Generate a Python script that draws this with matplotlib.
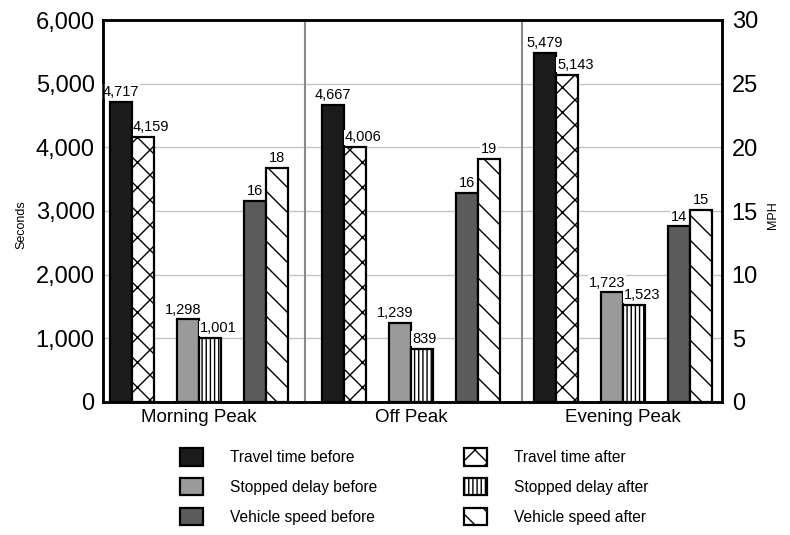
import matplotlib
matplotlib.use("Agg")
import matplotlib.pyplot as plt
from matplotlib.ticker import FuncFormatter
import numpy as np

# render at 75 dpi so hatch spacing matches the reference; k rescales point sizes
DPI = 75
k = 100 / DPI

plt.rcParams['font.family'] = ['Liberation Sans', 'DejaVu Sans']
plt.rcParams['hatch.linewidth'] = 1.0 * k

categories = ["Morning Peak", "Off Peak", "Evening Peak"]
travel_before = [4717, 4667, 5479]
travel_after = [4159, 4006, 5143]
delay_before = [1298, 1239, 1723]
delay_after = [1001, 839, 1523]
speed_before = [15.8, 16.4, 13.8]
speed_after = [18.4, 19.1, 15.1]
left_ticks = [0, 1000, 2000, 3000, 4000, 5000, 6000]
right_ticks = [0, 5, 10, 15, 20, 25, 30]

W, H = 790, 535
fig = plt.figure(figsize=(W / DPI, H / DPI), dpi=DPI)
ax = fig.add_axes([103 / W, 133 / H, 619 / W, 382 / H])
ax2 = ax.twinx()

x = np.arange(len(categories))
bw = 0.104
offs = [-0.368, -0.264, -0.052, 0.052, 0.264, 0.368]
elw = 1.6 * k

c_tb = '#1c1c1c'
c_db = '#9a9a9a'
c_sb = '#5c5c5c'

b1 = ax.bar(x + offs[0], travel_before, bw, color=c_tb, edgecolor='black', lw=elw, zorder=3,
            label='Travel time before')
b2 = ax.bar(x + offs[1], travel_after, bw, color='white', edgecolor='black', lw=elw, hatch='x',
            zorder=3, label='Travel time after')
b3 = ax.bar(x + offs[2], delay_before, bw, color=c_db, edgecolor='black', lw=elw, zorder=3,
            label='Stopped delay before')
b4 = ax.bar(x + offs[3], delay_after, bw, color='white', edgecolor='black', lw=elw, hatch='|||',
            zorder=3, label='Stopped delay after')
b5 = ax2.bar(x + offs[4], speed_before, bw, color=c_sb, edgecolor='black', lw=elw, zorder=3,
             label='Vehicle speed before')
b6 = ax2.bar(x + offs[5], speed_after, bw, color='white', edgecolor='black', lw=elw, hatch='\\',
             zorder=3, label='Vehicle speed after')

bb = dict(facecolor='white', edgecolor='none', pad=0.5)
fs_lab = 10.5 * k


def label_bars(a, bars, fmt, align):
    for rect, v in zip(bars.patches, bars.datavalues):
        if align == 'center':
            xx, ha, dx = rect.get_x() + rect.get_width() / 2, 'center', 0
        elif align == 'left':
            xx, ha, dx = rect.get_x(), 'left', 1
        else:
            xx, ha, dx = rect.get_x() + rect.get_width(), 'right', 2
        a.annotate(fmt(v), (xx, rect.get_height()), xytext=(dx * k * 0.75, 2 * k),
                   textcoords='offset points', ha=ha, va='bottom', fontsize=fs_lab, bbox=bb,
                   zorder=4)


label_bars(ax, b1, lambda v: f"{v:,.0f}", 'center')
label_bars(ax, b2, lambda v: f"{v:,.0f}", 'left')
label_bars(ax, b3, lambda v: f"{v:,.0f}", 'right')
label_bars(ax, b4, lambda v: f"{v:,.0f}", 'left')
label_bars(ax2, b5, lambda v: f"{v:.0f}", 'center')
label_bars(ax2, b6, lambda v: f"{v:.0f}", 'center')

ax.set_xlim(-0.453, 2.467)
ax.set_ylim(0, 6000)
ax2.set_ylim(0, 30)
ax.set_yticks(left_ticks)
ax2.set_yticks(right_ticks)
ax.yaxis.set_major_formatter(FuncFormatter(lambda v, p: f"{v:,.0f}"))
ax.set_xticks(x)
ax.set_xticklabels(categories, fontsize=13.5 * k)
ax.yaxis.grid(True, color='#c4c4c4', lw=1 * k)
ax.set_axisbelow(True)
ax.axvline(0.5, color='#8a8a8a', lw=1.5 * k, zorder=1)
ax.axvline(1.525, color='#8a8a8a', lw=1.5 * k, zorder=1)

ax.tick_params(axis='y', length=0, labelsize=17 * k, pad=6 * k)
ax2.tick_params(axis='y', length=0, labelsize=17 * k, pad=7 * k)
ax.tick_params(axis='x', length=0, pad=5 * k)
for a in (ax, ax2):
    for s in a.spines.values():
        s.set_linewidth(1.8 * k)
        s.set_color('black')

fig.text(21 / W, 1 - 225 / H, 'Seconds', rotation=90, fontsize=9 * k, ha='center', va='center')
fig.text(773 / W, 1 - 215 / H, 'MPH', rotation=90, fontsize=9 * k, ha='center', va='center')

handles = [b1, b3, b5, b2, b4, b6]
labels = [h.get_label() for h in handles]
fig.legend(handles, labels, ncol=2, loc='upper left', bbox_to_anchor=(180 / W, 1 - 448 / H),
           frameon=False, fontsize=11.2 * k, handlelength=1.5, handleheight=1.37,
           handletextpad=1.7, labelspacing=0.78, columnspacing=5.6, borderpad=0,
           borderaxespad=0)

fig.savefig('out.png', dpi=DPI)
